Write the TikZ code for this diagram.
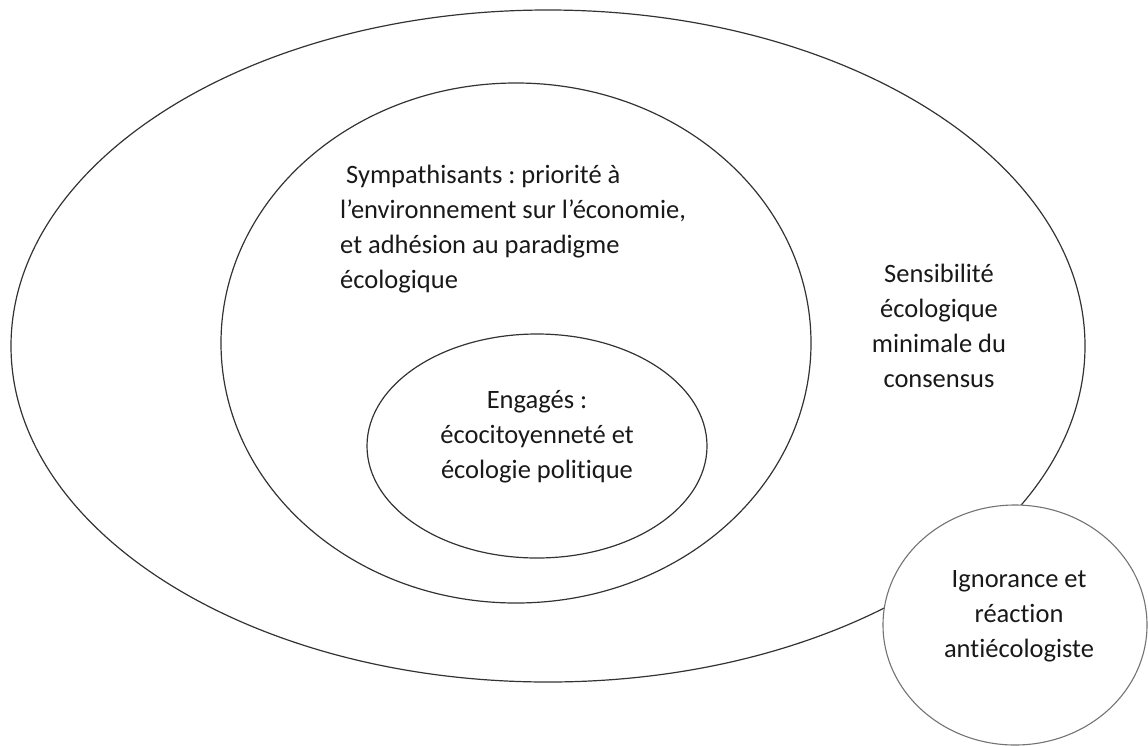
\documentclass[tikz,border=0pt]{standalone}
\usepackage{fontspec}
\setmainfont{Carlito}[Ligatures=NoCommon]
\frenchspacing
\usetikzlibrary{shapes.geometric}
\begin{document}
\begin{tikzpicture}[x=1pt,y=-1pt,
  ring/.style={draw=black!80, line width=1.2pt, ellipse, inner sep=0pt},
  lightring/.style={draw=black!55, line width=1.1pt, ellipse, inner sep=0pt, fill=white},
  label/.style={inner sep=0pt, font=\fontsize{26.5}{35}\selectfont\frenchspacing, text=black!90}]
\useasboundingbox (0,0) rectangle (1148,745);
\node[ring, minimum width=1074pt, minimum height=672pt] (outer) at (548,346) {};
\node[ring, minimum width=590pt, minimum height=520pt] (middle) at (516,343) {};
\node[ring, minimum width=340pt, minimum height=224pt] (inner) at (537,446) {};
\node[lightring, minimum width=264pt, minimum height=240pt] (ign) at (1015,625) {};
\node[label, align=left, anchor=west] (symp) at (340,229)
  {\hspace*{0.226em}Sympathisants : priorité à\\l’environnement sur l’économie,\\et adhésion au paradigme\\écologique};
\node[label, align=center] (sens) at (939,326)
  {Sensibilité\\écologique\\minimale du\\consensus};
\node[label, align=center] (eng) at (537,437)
  {Engagés :\\écocitoyenneté et\\écologie politique};
\node[label, align=center] (ignt) at (1019,616)
  {Ignorance et\\réaction\\antiécologiste};
\end{tikzpicture}
\end{document}
